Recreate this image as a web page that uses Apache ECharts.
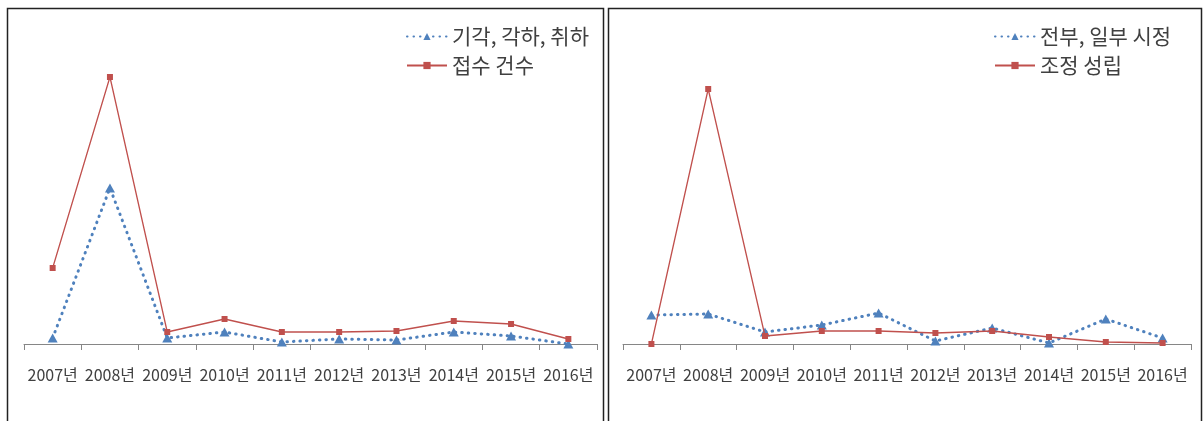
<!DOCTYPE html>
<html>
<head>
<meta charset="utf-8">
<script src="https://cdn.jsdelivr.net/npm/echarts@6/dist/echarts.min.js"></script>
<style>
  html, body { margin: 0; padding: 0; background: #fff; }
  #container { width: 1203px; height: 421px; }
</style>
</head>
<body>
<div id="container"></div>
<script>
// data
var years = ['2007년', '2008년', '2009년', '2010년', '2011년', '2012년', '2013년', '2014년', '2015년', '2016년'];

// left panel
var dismissed = [2.4, 62.4, 2.4, 4.8, 0.8, 2, 1.6, 4.8, 3.2, 0];      // 기각, 각하, 취하
var received = [30.4, 106.8, 4.8, 10, 4.8, 4.8, 5.2, 9.2, 8, 2];      // 접수 건수

// right panel
var corrected = [11.6, 12, 4.8, 7.6, 12.4, 1.2, 6.4, 0.4, 10, 2.4];  // 전부, 일부 시정
var settled = [0, 102, 3.2, 5.2, 5.2, 4.4, 5.2, 2.8, 0.8, 0.4];       // 조정 성립

var seriesNames = ['기각, 각하, 취하', '접수 건수', '전부, 일부 시정', '조정 성립'];

// colors
var blue = '#4F81BD';
var red = '#C0504D';
var axisGray = '#868686';
var textColor = '#404040';
var fontFamily = '"Noto Sans CJK KR", "Noto Sans", sans-serif';

var dom = document.getElementById('container');
var myChart = echarts.init(dom);

function makeX(i) {
    return {
        type: 'category',
        gridIndex: i,
        data: years,
        boundaryGap: true,
        axisLine: { lineStyle: { color: axisGray, width: 1 } },
        axisTick: { show: true, length: 6, lineStyle: { color: axisGray } },
        axisLabel: {
            color: textColor,
            fontSize: 16,
            fontFamily: fontFamily,
            margin: 23,
            interval: 0
        }
    };
}

function makeY(i) {
    return {
        type: 'value',
        gridIndex: i,
        min: 0,
        max: 120,
        show: false,
        splitLine: { show: false }
    };
}

function dottedSeries(name, data, i) {
    return {
        name: name,
        type: 'line',
        xAxisIndex: i,
        yAxisIndex: i,
        data: data,
        symbol: 'triangle',
        symbolSize: [10, 9],
        itemStyle: { color: blue },
        lineStyle: { color: blue, width: 3, type: [0.5, 6], cap: 'round' },
        z: 2
    };
}

function solidSeries(name, data, i) {
    return {
        name: name,
        type: 'line',
        xAxisIndex: i,
        yAxisIndex: i,
        data: data,
        symbol: 'rect',
        symbolSize: 6,
        itemStyle: { color: red },
        lineStyle: { color: red, width: 1.3 },
        z: 3
    };
}

var legendBase = {
    orient: 'vertical',
    itemWidth: 40,
    itemHeight: 9,
    itemGap: 8,
    textStyle: { color: textColor, fontSize: 21, fontFamily: fontFamily },
    selectedMode: false
};

var option = {
    backgroundColor: '#fff',
    animation: false,
    grid: [
        { left: 24, width: 573, top: 44, height: 300 },
        { left: 623, width: 568, top: 44, height: 300 }
    ],
    xAxis: [makeX(0), makeX(1)],
    yAxis: [makeY(0), makeY(1)],
    legend: [
        Object.assign({}, legendBase, { left: 401, top: 21, data: [seriesNames[0], seriesNames[1]] }),
        Object.assign({}, legendBase, { left: 989, top: 21, data: [seriesNames[2], seriesNames[3]] })
    ],
    graphic: [
        // panel frames
        { type: 'rect', shape: { x: 7.5, y: 8.5, width: 596, height: 430 }, style: { fill: 'none', stroke: '#222', lineWidth: 1.5 }, silent: true },
        { type: 'rect', shape: { x: 608.5, y: 8.5, width: 593, height: 430 }, style: { fill: 'none', stroke: '#222', lineWidth: 1.5 }, silent: true }
    ],
    series: [
        dottedSeries(seriesNames[0], dismissed, 0),
        solidSeries(seriesNames[1], received, 0),
        dottedSeries(seriesNames[2], corrected, 1),
        solidSeries(seriesNames[3], settled, 1)
    ]
};

if (option && typeof option === 'object') {
    myChart.setOption(option, true);
}
</script>
</body>
</html>
